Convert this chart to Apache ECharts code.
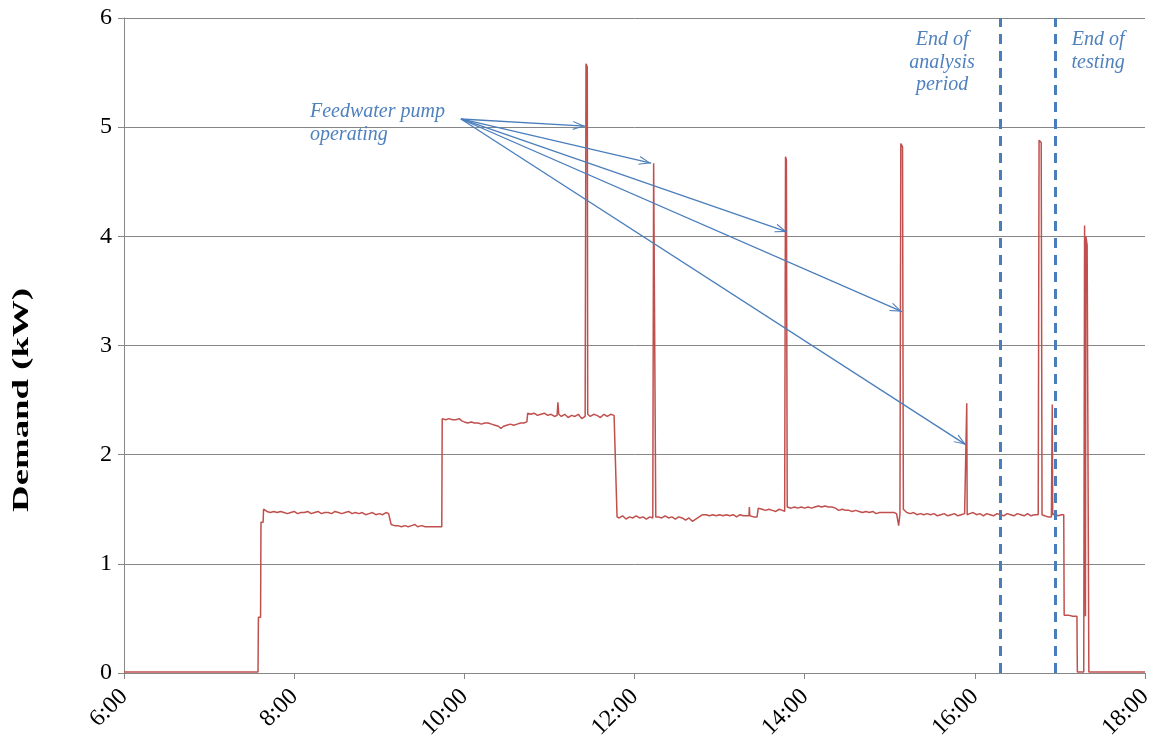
<!DOCTYPE html>
<html>
<head>
<meta charset="utf-8">
<script src="https://cdn.jsdelivr.net/npm/echarts@6/dist/echarts.min.js"></script>
<style>
html,body{margin:0;padding:0;background:#fff;}
#chart{width:1153px;height:753px;}
</style>
</head>
<body>
<div id="chart"></div>
<script>
// Demand readings: [hour of day, kW]
const demandReadings = [
  [6.00,0.01],[6.52,0.01],[6.53,0.02],[6.54,0.01],[6.80,0.01],[6.81,0.02],[6.82,0.01],[7.00,0.01],[7.01,0.02],[7.02,0.01],[7.20,0.01],[7.21,0.02],[7.22,0.01],[7.575,0.01],
  [7.58,0.51],[7.605,0.51],[7.61,1.38],[7.635,1.38],[7.64,1.50],
  [7.68,1.48],[7.72,1.47],[7.76,1.48],[7.80,1.47],[7.84,1.48],[7.88,1.47],[7.92,1.46],[7.96,1.47],[8.00,1.48],[8.04,1.46],[8.08,1.47],[8.12,1.47],[8.16,1.48],[8.20,1.46],[8.24,1.47],[8.28,1.48],[8.32,1.46],[8.36,1.47],[8.40,1.47],[8.44,1.46],[8.48,1.48],[8.52,1.47],[8.56,1.46],[8.60,1.47],[8.64,1.48],[8.68,1.46],[8.72,1.47],[8.76,1.46],[8.80,1.47],[8.84,1.45],[8.88,1.46],[8.92,1.47],[8.96,1.45],[9.00,1.46],[9.04,1.45],[9.08,1.47],[9.11,1.46],[9.125,1.46],
  [9.14,1.36],[9.18,1.35],[9.22,1.35],[9.26,1.34],[9.30,1.35],[9.34,1.34],[9.38,1.35],[9.42,1.36],[9.45,1.34],[9.50,1.35],[9.54,1.34],[9.60,1.34],[9.65,1.34],[9.70,1.34],[9.735,1.34],
  [9.74,2.33],[9.78,2.32],[9.82,2.33],[9.86,2.32],[9.90,2.32],[9.94,2.33],[9.97,2.31],[10.00,2.30],[10.04,2.29],[10.08,2.30],[10.12,2.29],[10.16,2.29],[10.20,2.28],[10.24,2.29],[10.28,2.29],[10.32,2.28],[10.36,2.27],[10.40,2.26],[10.43,2.24],[10.46,2.26],[10.50,2.27],[10.54,2.28],[10.58,2.27],[10.62,2.28],[10.66,2.29],[10.70,2.29],[10.735,2.30],
  [10.745,2.38],[10.78,2.37],[10.82,2.38],[10.86,2.36],[10.90,2.37],[10.94,2.38],[10.98,2.36],[11.02,2.37],[11.06,2.35],[11.09,2.36],[11.10,2.48],[11.11,2.37],[11.14,2.35],[11.18,2.37],[11.22,2.34],[11.26,2.36],[11.30,2.35],[11.34,2.37],[11.38,2.33],[11.42,2.35],
  [11.43,5.58],[11.445,5.55],[11.45,2.37],[11.48,2.35],[11.52,2.37],[11.56,2.36],[11.60,2.34],[11.64,2.37],[11.68,2.35],[11.72,2.37],[11.76,2.36],[11.78,2.35],
  [11.795,1.43],[11.82,1.42],[11.86,1.44],[11.90,1.41],[11.94,1.43],[11.98,1.42],[12.02,1.44],[12.06,1.42],[12.10,1.43],[12.14,1.41],[12.18,1.43],[12.215,1.42],
  [12.225,4.67],[12.24,4.66],[12.25,1.43],[12.28,1.43],[12.32,1.42],[12.36,1.44],[12.40,1.42],[12.44,1.43],[12.48,1.41],[12.52,1.43],[12.56,1.42],[12.60,1.40],[12.64,1.42],[12.68,1.39],[12.72,1.41],[12.76,1.43],
  [12.80,1.45],[12.84,1.45],[12.88,1.44],[12.92,1.45],[12.96,1.44],[13.00,1.45],[13.04,1.44],[13.08,1.45],[13.12,1.44],[13.16,1.45],[13.20,1.43],[13.24,1.45],[13.28,1.44],[13.32,1.44],[13.345,1.44],[13.35,1.52],[13.355,1.44],[13.40,1.43],[13.44,1.43],
  [13.455,1.51],[13.50,1.50],[13.54,1.49],[13.58,1.50],[13.62,1.49],[13.66,1.48],[13.70,1.50],[13.74,1.49],[13.765,1.48],
  [13.775,4.73],[13.785,4.70],[13.795,1.52],[13.84,1.51],[13.88,1.52],[13.92,1.51],[13.96,1.52],[14.00,1.51],[14.04,1.52],[14.08,1.51],[14.12,1.52],[14.16,1.53],[14.20,1.52],[14.24,1.53],[14.28,1.52],[14.32,1.52],[14.36,1.51],
  [14.40,1.49],[14.44,1.50],[14.48,1.49],[14.52,1.49],[14.56,1.48],[14.60,1.49],[14.64,1.48],[14.68,1.47],[14.72,1.48],[14.76,1.47],[14.80,1.48],[14.84,1.46],[14.88,1.47],[14.92,1.47],[14.96,1.47],[15.00,1.47],[15.05,1.47],[15.08,1.46],
  [15.105,1.35],[15.12,1.46],[15.13,4.85],[15.15,4.82],[15.16,1.50],[15.20,1.47],[15.24,1.46],[15.28,1.47],[15.32,1.45],[15.36,1.46],[15.40,1.45],[15.44,1.46],
  [15.48,1.45],[15.52,1.46],[15.56,1.44],[15.60,1.45],[15.64,1.46],[15.68,1.44],[15.72,1.45],[15.76,1.46],[15.80,1.44],[15.84,1.45],[15.88,1.46],[15.90,1.45],[15.905,2.47],[15.91,1.45],
  [15.94,1.46],[15.98,1.47],[16.02,1.45],[16.06,1.46],[16.10,1.44],[16.14,1.46],[16.18,1.45],[16.22,1.44],[16.26,1.46],[16.30,1.45],[16.34,1.44],[16.38,1.46],[16.42,1.45],[16.46,1.44],[16.50,1.46],[16.54,1.45],[16.58,1.44],[16.62,1.46],[16.66,1.44],[16.70,1.45],[16.745,1.45],
  [16.755,4.88],[16.78,4.86],[16.79,1.45],[16.82,1.44],[16.86,1.43],[16.90,1.43],[16.91,2.46],[16.915,1.45],[16.94,1.46],[16.98,1.44],[17.02,1.45],[17.045,1.45],
  [17.05,0.53],[17.10,0.53],[17.15,0.52],[17.20,0.52],[17.205,0.01],[17.28,0.01],
  [17.29,4.10],[17.30,0.52],[17.305,4.00],[17.32,3.92],[17.33,3.92],[17.34,0.01],[18.00,0.01]
];

// Annotation arrows: from label anchor [hour, kW] to pointed spike [hour, kW]
const arrowStart = [9.96, 5.075];
const arrowTargets = [[11.418, 5.01], [12.194, 4.67], [13.793, 4.04], [15.144, 3.31], [15.897, 2.09]];

// Vertical reference lines (hour of day)
const endOfAnalysis = 16.30;
const endOfTesting = 16.94;

const xTicks = { min: 6, max: 18, interval: 2 };
const yTicks = { min: 0, max: 6, interval: 1 };

const chart = echarts.init(document.getElementById('chart'), null, { renderer: 'canvas' });
const FONT = '"Liberation Serif", "Times New Roman", serif';
const AXIS_GREY = '#868686';
const BLUE = '#4a7ebb';

// open chevron arrow head, tip at the centre of its box (upper dummy point only sets the box)
const chevron = 'path://M5,0 L5.01,0 L5,0.01 Z M5,10 L10,20 L8.7,20 L5,12.4 L1.3,20 L0,20 Z';

chart.setOption({
  animation: false,
  backgroundColor: '#ffffff',
  grid: { left: 124, right: 8, top: 18, bottom: 80, containLabel: false, outerBoundsMode: 'none' },
  xAxis: {
    type: 'value',
    min: xTicks.min, max: xTicks.max, interval: xTicks.interval,
    axisLine: { show: true, onZero: false, lineStyle: { color: AXIS_GREY, width: 1 } },
    axisTick: { show: true, inside: false, length: 6, lineStyle: { color: AXIS_GREY } },
    splitLine: { show: false },
    axisLabel: {
      rotate: 45, margin: 20, color: '#000', fontFamily: FONT, fontSize: 24,
      formatter: v => v + ':00'
    }
  },
  yAxis: {
    type: 'value',
    min: yTicks.min, max: yTicks.max, interval: yTicks.interval,
    axisLine: { show: true, lineStyle: { color: AXIS_GREY, width: 1 } },
    axisTick: { show: true, inside: false, length: 6, lineStyle: { color: AXIS_GREY } },
    splitLine: { show: true, lineStyle: { color: AXIS_GREY, width: 1 } },
    axisLabel: { margin: 12, color: '#000', fontFamily: FONT, fontSize: 24 }
  },
  series: [
    {
      type: 'line',
      data: demandReadings,
      showSymbol: false,
      symbol: 'none',
      lineStyle: { color: '#c0504d', width: 1.5 },
      z: 3
    },
    {
      type: 'line',
      data: [],
      markLine: {
        silent: true,
        animation: false,
        symbol: ['none', 'none'],
        label: { show: false },
        lineStyle: { color: BLUE, width: 3, type: [10, 7] },
        data: [{ xAxis: endOfAnalysis }, { xAxis: endOfTesting }]
      },
      z: 4
    },
    {
      type: 'line',
      data: [],
      markLine: {
        silent: true,
        animation: false,
        symbol: ['none', chevron],
        symbolSize: [9, 24],
        label: { show: false },
        itemStyle: { color: BLUE },
        lineStyle: { color: BLUE, width: 1.3, type: 'solid' },
        data: arrowTargets.map(t => [{ coord: arrowStart }, { coord: t }])
      },
      z: 5
    }
  ]
});

// Annotation texts placed relative to data coordinates
const anchorFeed = chart.convertToPixel({ gridIndex: 0 }, [8.186, 5.25]);
const anchorAnalysis = chart.convertToPixel({ gridIndex: 0 }, [15.615, 5.90]);
const anchorTesting = chart.convertToPixel({ gridIndex: 0 }, [17.449, 5.90]);

chart.setOption({
  graphic: [
    {
      type: 'text', x: 22, y: 400, rotation: Math.PI / 2, scaleX: 1.6, scaleY: 1,
      style: {
        text: 'Demand (kW)', font: 'bold 23px ' + FONT,
        fill: '#000', textAlign: 'center', textVerticalAlign: 'middle'
      }
    },
    {
      type: 'text', x: anchorFeed[0], y: anchorFeed[1],
      style: {
        text: 'Feedwater pump\noperating', font: 'italic 20px ' + FONT,
        fill: '#4f81bd', textAlign: 'left', textVerticalAlign: 'top', lineHeight: 23
      }
    },
    {
      type: 'text', x: anchorAnalysis[0], y: anchorAnalysis[1],
      style: {
        text: 'End of\nanalysis\nperiod', font: 'italic 20px ' + FONT,
        fill: '#4f81bd', textAlign: 'center', textVerticalAlign: 'top', lineHeight: 22.5
      }
    },
    {
      type: 'text', x: anchorTesting[0], y: anchorTesting[1],
      style: {
        text: 'End of\ntesting', font: 'italic 20px ' + FONT,
        fill: '#4f81bd', textAlign: 'center', textVerticalAlign: 'top', lineHeight: 22.5
      }
    }
  ]
});
</script>
</body>
</html>
